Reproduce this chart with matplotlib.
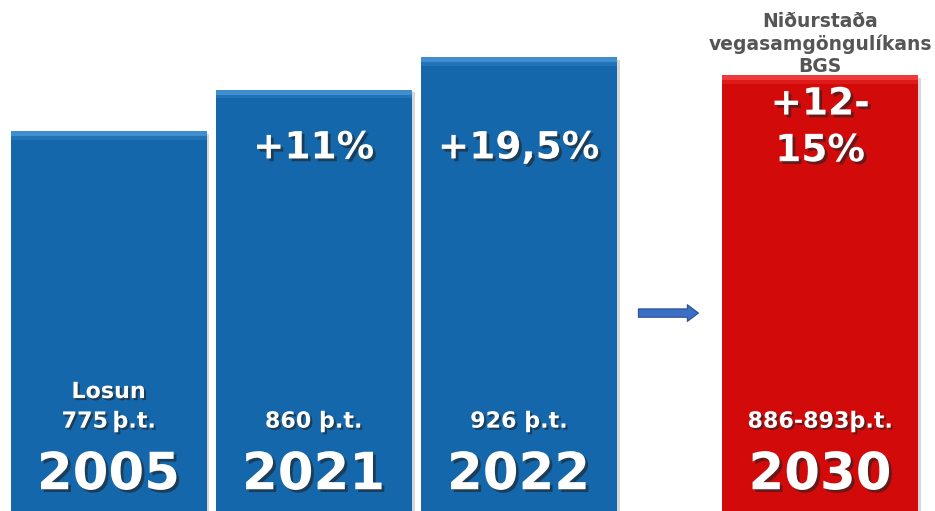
import matplotlib
matplotlib.use("Agg")
import matplotlib.pyplot as plt
import matplotlib.patheffects as pe

years = ["2005", "2021", "2022", "2030"]
values = [775, 860, 926, 890]
positions = [0, 1, 2, 3.47]
emission_labels = ["Losun\n775\u2009þ.t.", "860 þ.t.", "926 þ.t.", "886-893þ.t."]
change_labels = ["", "+11%", "+19,5%", "+12-\n15%"]
header = "Niðurstaða\nvegasamgöngulíkans\nBGS"

blue = "#1467ab"
red = "#d20a0a"
colors = [blue, blue, blue, red]
light = ["#3f8fd0", "#3f8fd0", "#3f8fd0", "#ef3a3a"]

plt.rcParams['font.family'] = ['DejaVu Sans']

fig = plt.figure(figsize=(9.35, 5.11), dpi=100)
ax = fig.add_axes([0, 0, 1, 1])
ax.set_xlim(-0.53, 4.03)
ax.set_ylim(0, 1043)
ax.axis("off")

width = 0.956
ax.bar(positions, values, width=width, color=colors, edgecolor="none", zorder=2,
       path_effects=[pe.SimplePatchShadow(offset=(2, -2), shadow_rgbFace="#999999", alpha=0.4), pe.Normal()])
# bevel highlight along the top edge
ax.bar(positions, [10] * 4, bottom=[v - 10 for v in values], width=width,
       color=light, edgecolor="none", zorder=3)
ax.bar(positions, [8] * 4, bottom=[v - 18 for v in values], width=width,
       color=light, alpha=0.35, edgecolor="none", zorder=3)

def shadow(off=2):
    return [pe.withSimplePatchShadow(offset=(off, -off), shadow_rgbFace="#222222", alpha=0.6)]

for x, yr, em, ch in zip(positions, years, emission_labels, change_labels):
    ax.text(x, 73, yr, ha="center", va="center", color="white", fontsize=37,
            fontweight="bold", zorder=5, path_effects=shadow(2))
    ax.text(x, 162, em, ha="center", va="bottom", color="white", fontsize=16,
            fontweight="bold", zorder=5, linespacing=1.6, path_effects=shadow(1.5))
    if ch:
        ax.text(x, 740 if "\n" not in ch else 782, ch, ha="center", va="center", color="white",
                fontsize=27, fontweight="bold", zorder=5, linespacing=1.38,
                path_effects=shadow(2))

ax.text(positions[3], values[3] - 2, header, ha="center", va="bottom", color="#555555",
        fontsize=13.5, fontweight="bold", linespacing=1.2, zorder=5)

ax.annotate("", xy=(2.89, 404), xytext=(2.57, 404),
            arrowprops=dict(arrowstyle="simple,head_length=0.8,head_width=1.2,tail_width=0.6",
                            facecolor="#3b6fc4", edgecolor="#2a4f90", lw=0.8),
            zorder=4)

fig.savefig("out.png", dpi=100)
